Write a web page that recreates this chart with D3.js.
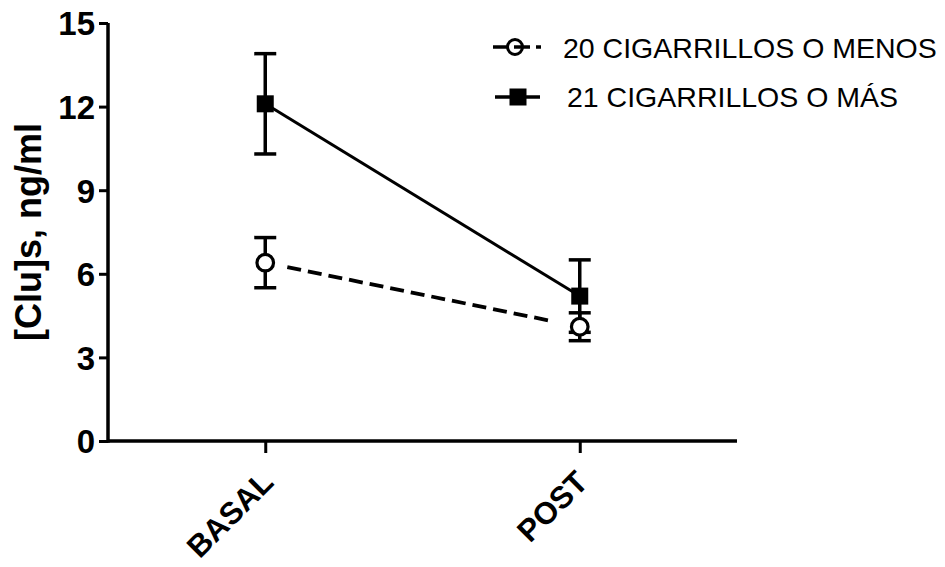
<!DOCTYPE html>
<html>
<head>
<meta charset="utf-8">
<script src="https://cdn.jsdelivr.net/npm/d3@7"></script>
<style>
  html, body { margin: 0; padding: 0; background: #fff; }
  svg { display: block; }
  text { font-family: "Liberation Sans", Arial, sans-serif; fill: #000; }
</style>
</head>
<body>
<svg id="chart" width="945" height="567"></svg>
<script>
// Serum clusterin by smoking group, mean ± error
const timepoints = ["BASAL", "POST"];
const yTicks = [0, 3, 6, 9, 12, 15];

const seriesNames = ["20 CIGARRILLOS O MENOS", "21 CIGARRILLOS O MÁS"];
const lowMean = [6.4, 4.1];
const lowErrLo = [5.5, 3.6];
const lowErrHi = [7.3, 4.6];
const highMean = [12.1, 5.2];
const highErrLo = [10.3, 3.9];
const highErrHi = [13.9, 6.5];

const svg = d3.select("#chart");

const x = d3.scalePoint().domain(timepoints).range([108, 737]).padding(0.5);
const y = d3.scaleLinear().domain([0, 15]).range([441, 23]);

// Axes
const yAxis = svg.append("g").attr("transform", "translate(108,0)")
  .call(d3.axisLeft(y).tickValues(yTicks).tickSize(9).tickPadding(4));
const xAxis = svg.append("g").attr("transform", "translate(0,441)")
  .call(d3.axisBottom(x).tickSize(12).tickSizeOuter(0).tickFormat(""));

[yAxis, xAxis].forEach(g => {
  g.select(".domain").attr("stroke", "#000").attr("stroke-width", 3.5);
  g.selectAll(".tick line").attr("stroke", "#000").attr("stroke-width", 3);
});
yAxis.select(".domain").attr("d", `M0,${y(0) + 1.75}V${y(15)}`);
xAxis.select(".domain").attr("d", `M108,0H737`);
yAxis.selectAll(".tick text")
  .style("font-size", "33px").style("font-weight", "bold")
  .attr("dy", "0.36em");

// Rotated category labels
svg.append("g").selectAll("text").data(timepoints).join("text")
  .attr("transform", d => `translate(${x(d) + 10},${484}) rotate(-45)`)
  .attr("text-anchor", "end")
  .style("font-size", "31px").style("font-weight", "bold")
  .text(d => d);

// Y axis title
svg.append("text")
  .attr("transform", `translate(41,${y(7.5)}) rotate(-90)`)
  .attr("text-anchor", "middle")
  .style("font-size", "36px").style("font-weight", "bold")
  .text("[Clu]s, ng/ml");

// Error bars
function errorBars(lo, hi) {
  const g = svg.append("g").attr("stroke", "#000").attr("stroke-width", 3.5);
  timepoints.forEach((t, i) => {
    g.append("line").attr("x1", x(t)).attr("x2", x(t)).attr("y1", y(lo[i])).attr("y2", y(hi[i]));
    [lo[i], hi[i]].forEach(v => {
      g.append("line").attr("x1", x(t) - 11).attr("x2", x(t) + 11).attr("y1", y(v)).attr("y2", y(v));
    });
  });
}
errorBars(highErrLo, highErrHi);
errorBars(lowErrLo, lowErrHi);

// Connecting lines
const line = d3.line().x((d, i) => x(timepoints[i])).y(d => y(d));
svg.append("path").datum(highMean).attr("d", line)
  .attr("fill", "none").attr("stroke", "#000").attr("stroke-width", 3);

// dashed line trimmed back from both markers
(function () {
  const x0 = x(timepoints[0]), y0 = y(lowMean[0]);
  const x1 = x(timepoints[1]), y1 = y(lowMean[1]);
  const len = Math.hypot(x1 - x0, y1 - y0);
  const ux = (x1 - x0) / len, uy = (y1 - y0) / len;
  const a = 22.5, b = 30.5;
  svg.append("line")
    .attr("x1", x0 + ux * a).attr("y1", y0 + uy * a)
    .attr("x2", x1 - ux * b).attr("y2", y1 - uy * b)
    .attr("stroke", "#000").attr("stroke-width", 3.8)
    .attr("stroke-dasharray", "14,7");
})();

// Markers
svg.append("g").selectAll("rect").data(highMean).join("rect")
  .attr("x", (d, i) => x(timepoints[i]) - 8.5).attr("y", d => y(d) - 8.5)
  .attr("width", 17).attr("height", 17).attr("fill", "#000");
svg.append("g").selectAll("circle").data(lowMean).join("circle")
  .attr("cx", (d, i) => x(timepoints[i])).attr("cy", d => y(d))
  .attr("r", 8.3).attr("fill", "#fff").attr("stroke", "#000").attr("stroke-width", 3.2);

// Legend
const leg = svg.append("g");
leg.append("line").attr("x1", 493).attr("x2", 508).attr("y1", 47).attr("y2", 47)
  .attr("stroke", "#000").attr("stroke-width", 3.5);
leg.append("circle").attr("cx", 515).attr("cy", 47).attr("r", 7.5)
  .attr("fill", "#fff").attr("stroke", "#000").attr("stroke-width", 3);
leg.append("line").attr("x1", 514).attr("x2", 530).attr("y1", 47).attr("y2", 47)
  .attr("stroke", "#000").attr("stroke-width", 3.5);
leg.append("line").attr("x1", 536).attr("x2", 541).attr("y1", 47).attr("y2", 47)
  .attr("stroke", "#000").attr("stroke-width", 3.5);

leg.append("line").attr("x1", 495).attr("x2", 540).attr("y1", 97).attr("y2", 97)
  .attr("stroke", "#000").attr("stroke-width", 3.5);
leg.append("rect").attr("x", 509.5).attr("y", 88.5).attr("width", 17).attr("height", 17).attr("fill", "#000");

leg.append("text").attr("x", 563).attr("y", 58)
  .style("font-size", "28.5px").text(seriesNames[0]);
leg.append("text").attr("x", 567).attr("y", 107)
  .style("font-size", "28.5px").text(seriesNames[1]);
</script>
</body>
</html>
